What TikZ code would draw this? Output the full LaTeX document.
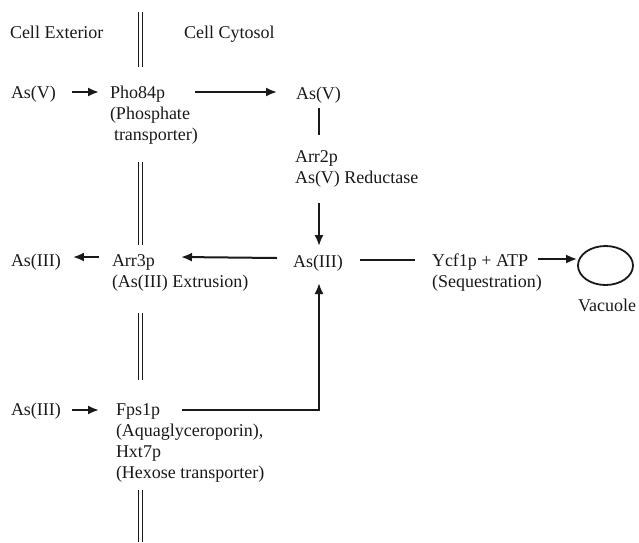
\documentclass[tikz,border=0pt]{standalone}
\usepackage{fontspec}
\setmainfont{Liberation Serif}
\usetikzlibrary{arrows.meta,calc,shapes.geometric}
\newcommand{\mlines}[1]{\begin{tabular}[t]{@{}l@{}}#1\end{tabular}}
\tikzset{
  txt/.style={anchor=base west, inner sep=0pt, outer sep=0pt,
    font=\fontsize{18}{21.3}\selectfont, text=black!90},
  conn/.style={line width=2pt, draw=black!90},
  arr/.style={conn, -{Latex[length=11pt,width=9pt]}},
  membrane/.style={line width=1.8pt, draw=black!90},
}
\begin{document}
\begin{tikzpicture}[x=1pt,y=-1pt]
\useasboundingbox (0,0) rectangle (639,542);
% membrane double lines
\foreach \a/\b in {12/67,162/245,313/380,490/542}{
  \draw[membrane] (138.5,\a) -- (138.5,\b);
  \draw[membrane] (142.5,\a) -- (142.5,\b);
}
% texts
\node[txt] (ext) at (10,38) {Cell Exterior};
\node[txt] (cyt) at (184,38) {Cell Cytosol};
\node[txt] (asVo) at (11,98) {As(V)};
\node[txt] (pho) at (110,98) {\mlines{Pho84p\\(Phosphate\\\hspace{4pt}transporter)}};
\node[txt] (asVi) at (296,99) {As(V)};
\node[txt] (arr2) at (295,162) {\mlines{Arr2p\\As(V) Reductase}};
\node[txt] (asIIIm) at (293,267) {As(III)};
\node[txt] (ycf) at (432,266) {\mlines{Ycf1p + ATP\\(Sequestration)}};
\node[draw, line width=1.8pt, draw=black!90, ellipse, minimum width=55pt, minimum height=39pt, inner sep=0pt] (vac) at (605.5,265.5) {};
\node[txt] (vacl) at (578,311) {Vacuole};
\node[txt] (asIIIo) at (11,266) {As(III)};
\node[txt] (arr3) at (112,266) {\mlines{Arr3p\\(As(III) Extrusion)}};
\node[txt] (asIIIb) at (11,415) {As(III)};
\node[txt] (fps) at (116,415) {\mlines{Fps1p\\(Aquaglyceroporin),\\Hxt7p\\(Hexose transporter)}};
% connectors
\draw[arr] ($(asVo.base east)+(16,-6)$) -- ($(pho.base west)+(-11,-6)$);
\draw[arr] ($(pho.base west)+(85,-6)$) -- ($(asVi.base west)+(-19,-7)$);
\draw[conn] ($(asVi.base west)+(23,9)$) -- ($(arr2.base west)+(24,-27)$);
\draw[arr] ($(arr2.base west)+(24,41)$) -- ($(asIIIm.base west)+(26,-21)$);
\draw[arr] ($(asIIIm.base west)+(-16,-9)$) -- ($(arr3.base west)+(69,-9)$);
\draw[arr] ($(arr3.base west)+(-13,-9)$) -- ($(asIIIo.base east)+(12,-9)$);
\draw[conn] ($(asIIIm.base east)+(17,-7)$) -- ($(ycf.base west)+(-17,-6)$);
\draw[arr] ($(ycf.base west)+(106,-7)$) -- (vac.west |- {$(ycf.base west)+(0,-7)$});
\draw[arr] ($(asIIIb.base east)+(11,-5)$) -- ($(fps.base west)+(-17,-5)$);
\draw[arr] ($(fps.base west)+(66,-5)$) -| ($(asIIIm.base west)+(26,16)$);
\end{tikzpicture}
\end{document}
